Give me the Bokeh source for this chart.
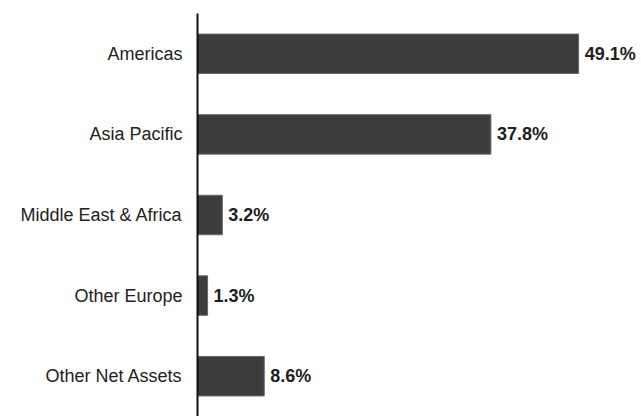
from bokeh.plotting import figure
from bokeh.models import ColumnDataSource, FactorRange, Range1d
from bokeh.core.properties import value
from bokeh.embed import file_html
from bokeh.resources import INLINE

regions = ["Americas", "Asia Pacific", "Middle East & Africa", "Other Europe", "Other Net Assets"]
shares = [49.1, 37.8, 3.2, 1.3, 8.6]
share_labels = ["49.1%", "37.8%", "3.2%", "1.3%", "8.6%"]

src = ColumnDataSource(dict(region=regions, share=shares, label=share_labels))

p = figure(
    width=641, height=416,
    y_range=FactorRange(factors=list(reversed(regions)), range_padding=0),
    x_range=Range1d(0, 57.2),
    output_backend="svg", toolbar_location=None,
    min_border_left=197, min_border_right=0, min_border_top=13, min_border_bottom=0,
)

p.hbar(y="region", right="share", left=0, height=0.49, source=src,
       fill_color="#3c3c3c", line_color="#6a6a6a", line_width=1)

p.text(x="share", y="region", text="label", source=src,
       x_offset=6, text_baseline="middle", text_align="left",
       text_font=value("Liberation Sans"), text_font_style="bold",
       text_font_size="18px", text_color="#1e1e1e")

p.xaxis.visible = False
p.xgrid.visible = False
p.ygrid.visible = False
p.outline_line_color = None

ax = p.yaxis[0]
ax.axis_line_color = "#111111"
ax.axis_line_width = 2
ax.major_tick_line_color = None
ax.minor_tick_line_color = None
ax.major_tick_out = 0
ax.major_tick_in = 0
ax.major_label_standoff = 15
ax.major_label_text_font = "Liberation Sans"
ax.major_label_text_font_size = "18px"
ax.major_label_text_color = "#222222"

open("out.html", "w").write(file_html(p, INLINE))
